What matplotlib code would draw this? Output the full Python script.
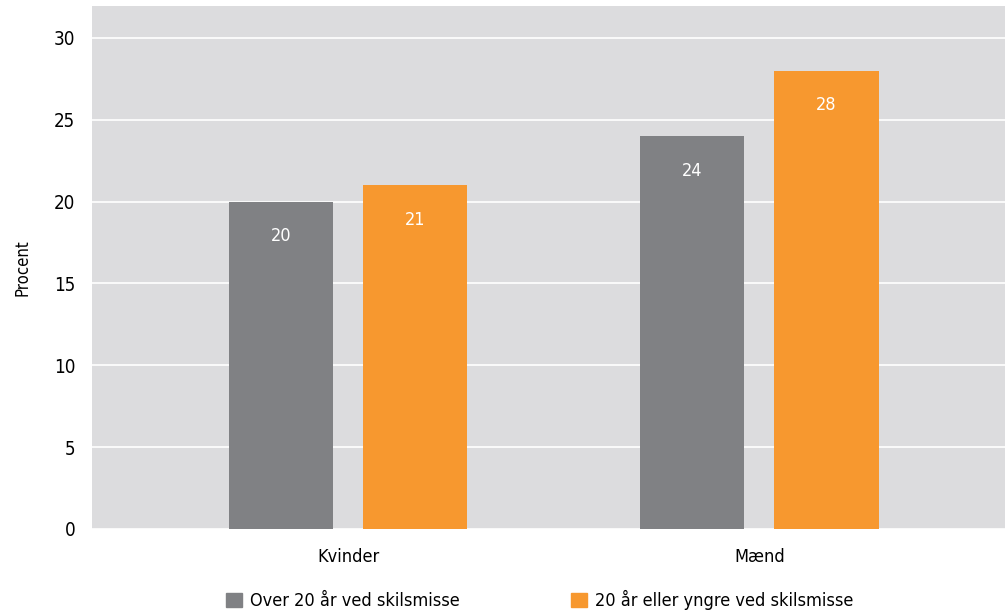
import numpy as np
import matplotlib
matplotlib.use('Agg')
import matplotlib.pyplot as plt
from matplotlib.patches import Patch

plt.rcParams['font.family'] = ['DejaVu Sans']
plt.rcParams['font.stretch'] = 'condensed'

categories = ['Kvinder', 'Mænd']
series_names = ['Over 20 år ved skilsmisse', '20 år eller yngre ved skilsmisse']
over20 = [20, 24]
under20 = [21, 28]
colors = ['#808184', '#f7982f']

fig = plt.figure(figsize=(10.05, 6.11), dpi=100)
ax = fig.add_axes([92 / 1005, 82 / 611, 913 / 1005, 523 / 611])
ax.set_facecolor('#dcdcde')

x = np.arange(len(categories))
w = 0.253
off = 0.163
b1 = ax.bar(x - off, over20, w, color=colors[0], zorder=3)
b2 = ax.bar(x + off, under20, w, color=colors[1], zorder=3)

for bars, vals in ((b1, over20), (b2, under20)):
    for b, v in zip(bars, vals):
        ax.text(b.get_x() + b.get_width() / 2, v - 2.1, str(v), ha='center', va='center',
                color='white', fontsize=13, zorder=4)

ax.set_ylim(0, 31.95)
ax.set_xlim(-0.623, 1.597)
ax.set_yticks(range(0, 31, 5))
ax.yaxis.grid(True, color='white', linewidth=1.2, zorder=1)
ax.set_xticks(x)
ax.set_xticklabels(categories, fontsize=13)
ax.tick_params(axis='y', labelsize=13.5, length=0, pad=12)
ax.tick_params(axis='x', length=0, pad=14)
for s in ax.spines.values():
    s.set_visible(False)
ax.set_ylabel('Procent', fontsize=12, labelpad=16)

handles = [Patch(color=c) for c in colors]
fig.legend(handles, series_names, loc='lower left', bbox_to_anchor=(210 / 1005, -0.025), ncol=2,
           frameon=False, fontsize=13, handlelength=0.85, handleheight=0.85, handletextpad=0.45,
           columnspacing=6.2)

fig.savefig('out.png', dpi=100)
